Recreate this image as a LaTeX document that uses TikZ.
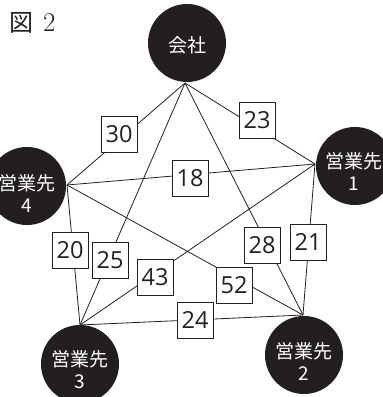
\documentclass[tikz,border=0pt]{standalone}
\usepackage{fontspec}
\newfontfamily\jp{Noto Sans CJK JP}
\newfontfamily\num{Open Sans}
\usetikzlibrary{calc}
\definecolor{ink}{HTML}{231F20}
\begin{document}
\begin{tikzpicture}[x=1pt,y=-1pt,
  site/.style={circle,fill=ink,draw=none,minimum size=78pt,inner sep=0pt},
  sitetext/.style={text=white,align=center,font=\jp\fontsize{19}{22}\selectfont,inner sep=0pt},
  lbl/.style={draw=ink,line width=0.8pt,fill=white,minimum width=36pt,minimum height=36pt,inner sep=0pt,font=\num\fontsize{23.5}{24}\selectfont,text=ink},
  edge/.style={draw=ink,line width=0.8pt}]
\useasboundingbox (0,0) rectangle (383,397);
% sites
\node[site] (c0) at (187,43) {};
\node[site] (c1) at (355,166) {};
\node[site] (c2) at (304,355) {};
\node[site] (c3) at (80,364) {};
\node[site] (c4) at (27,186) {};
\node[sitetext] (t0) at (187,45) {会社};
\node[sitetext] (t1) at (354,171) {営業先\\1};
\node[sitetext] (t2) at (304,361) {営業先\\2};
\node[sitetext] (t3) at (80,370) {営業先\\3};
\node[sitetext] (t4) at (27,193) {営業先\\4};
% title
\node[anchor=west,inner sep=0pt,text=ink] (title) at (9,23) {{\jp\fontsize{24}{26}\selectfont 図}\hspace{10pt}{\fontsize{27}{30}\selectfont 2}};
% edges
\coordinate (p0) at (185,83);
\coordinate (p1) at (315,164);
\coordinate (p2) at (303,315);
\coordinate (p3) at (80,325);
\coordinate (p4) at (67,185);
\draw[edge] (p0) -- (p4);
\draw[edge] (p0) -- (p1);
\draw[edge] (p0) -- (p3);
\draw[edge] (p0) -- (p2);
\draw[edge] (p4) -- (p1);
\draw[edge] (p1) -- (p3);
\draw[edge] (p1) -- (p2);
\draw[edge] (p4) -- (p3);
\draw[edge] (p4) -- (p2);
\draw[edge] (p3) -- (p2);
% labels
\node[lbl] (l30) at (119,134) {30};
\node[lbl] (l23) at (257,120) {23};
\node[lbl] (l18) at (190,178) {18};
\node[lbl] (l20) at (70,250) {20};
\node[lbl] (l25) at (110,260) {25};
\node[lbl] (l43) at (155,277) {43};
\node[lbl] (l24) at (195,320) {24};
\node[lbl] (l28) at (262,245) {28};
\node[lbl] (l21) at (308,242) {21};
\node[lbl] (l52) at (234,285) {52};
\end{tikzpicture}
\end{document}
